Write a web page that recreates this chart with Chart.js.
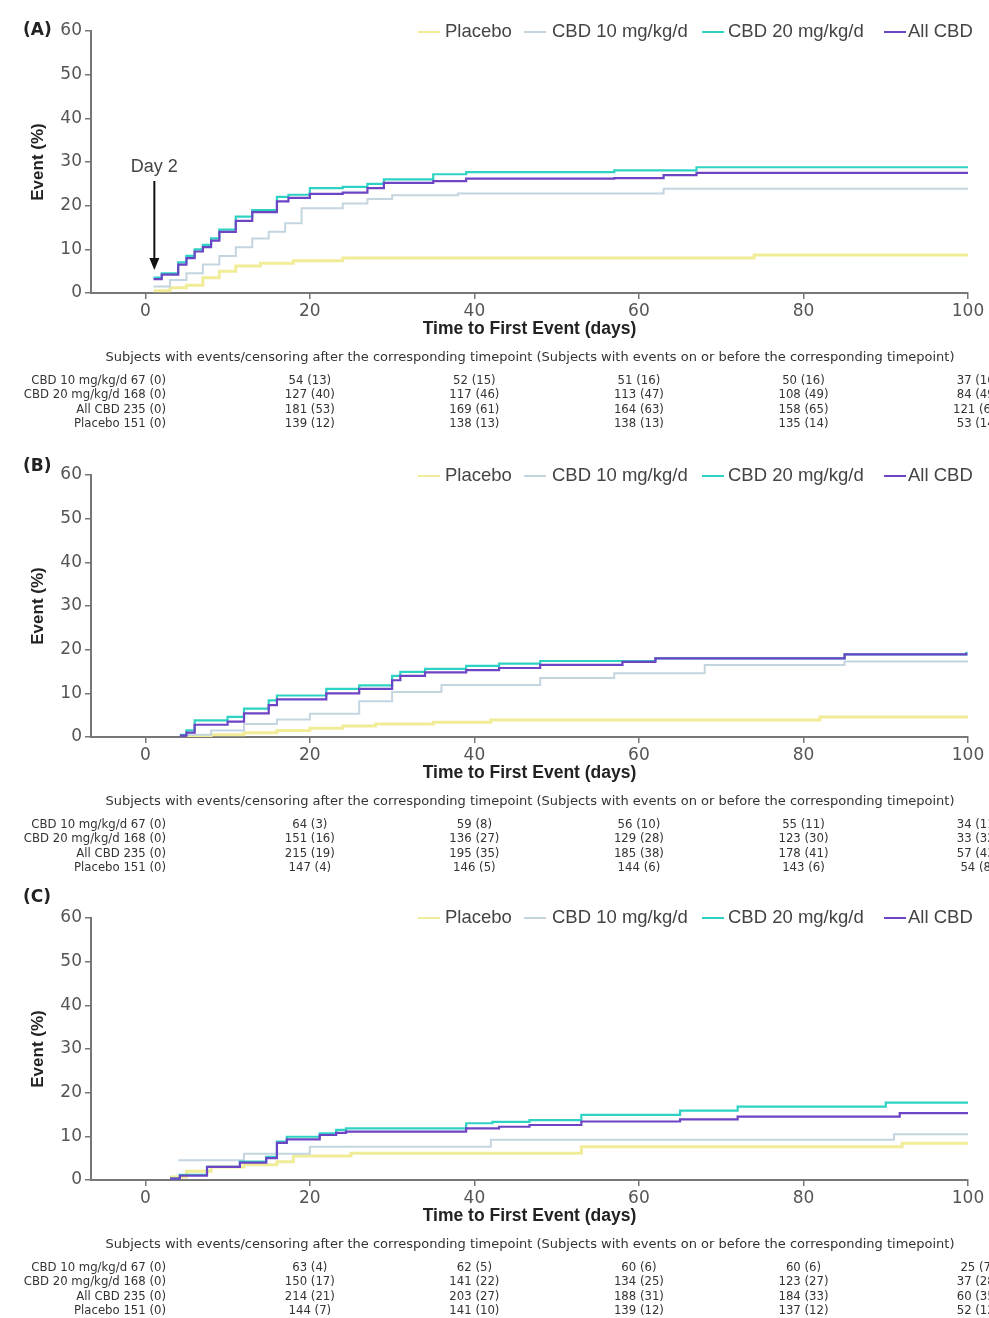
<!DOCTYPE html>
<html><head><meta charset="utf-8">
<script src="https://cdn.jsdelivr.net/npm/chart.js@4"></script>
<style>
html,body{margin:0;padding:0;background:#fff}
body{width:989px;height:1318px;overflow:hidden;position:relative}
canvas{position:absolute;left:0}
</style></head><body>
<canvas id="cA" width="989" height="444" style="top:0px"></canvas>
<canvas id="cB" width="989" height="444" style="top:444px"></canvas>
<canvas id="cC" width="989" height="431" style="top:887px"></canvas>
<script>
// ---------- data ----------
const seriesNames = ['Placebo', 'CBD 10 mg/kg/d', 'CBD 20 mg/kg/d', 'All CBD'];
const xTickValues = [0, 20, 40, 60, 80, 100];
const tableDays = [20, 40, 60, 80, 100];
const tableHeader = 'Subjects with events/censoring after the corresponding timepoint (Subjects with events on or before the corresponding timepoint)';
const tableRowLabels = ['CBD 10 mg/kg/d 67 (0)', 'CBD 20 mg/kg/d 168 (0)', 'All CBD 235 (0)', 'Placebo 151 (0)'];

// Panel A
const A_placebo_t = [1, 3, 5, 7, 9, 11, 14, 18, 24, 74, 100];
const A_placebo_v = [0.5, 1.2, 1.8, 3.5, 5, 6.2, 6.8, 7.4, 8.0, 8.7, 8.7];
const A_cbd10_t = [1, 3, 5, 7, 9, 11, 13, 15, 17, 19, 24, 27, 30, 38, 63, 100];
const A_cbd10_v = [1.5, 3, 4.5, 6.5, 8.5, 10.5, 12.5, 14, 16, 19.4, 20.5, 21.5, 22.4, 22.8, 23.9, 23.9];
const A_cbd20_t = [1, 2, 4, 5, 6, 7, 8, 9, 11, 13, 16, 17.4, 20, 24, 27, 29, 35, 39, 57, 67, 100];
const A_cbd20_v = [3.5, 4.5, 7, 8.5, 10, 11, 12.5, 14.5, 17.5, 19, 22, 22.5, 24, 24.3, 25, 26, 27.2, 27.7, 28.1, 28.8, 28.8];
const A_all_t = [1, 2, 4, 5, 6, 7, 8, 9, 11, 13, 16, 17.4, 20, 24, 27, 29, 35, 39, 57, 63, 67, 100];
const A_all_v = [3.2, 4.2, 6.5, 8, 9.5, 10.5, 12, 14, 16.5, 18.5, 21, 21.8, 22.7, 23, 24, 25.2, 25.6, 26.2, 26.3, 27, 27.5, 27.5];
const A_tab_cbd10 = ['54 (13)', '52 (15)', '51 (16)', '50 (16)', '37 (16)'];
const A_tab_cbd20 = ['127 (40)', '117 (46)', '113 (47)', '108 (49)', '84 (49)'];
const A_tab_all = ['181 (53)', '169 (61)', '164 (63)', '158 (65)', '121 (65)'];
const A_tab_placebo = ['139 (12)', '138 (13)', '138 (13)', '135 (14)', '53 (14)'];

// Panel B
const B_placebo_t = [5, 8, 12, 16, 20, 24, 28, 35, 42, 82, 100];
const B_placebo_v = [0.2, 0.5, 1, 1.5, 2, 2.5, 3, 3.4, 3.9, 4.6, 4.8];
const B_cbd10_t = [5, 8, 12, 16, 20, 26, 30, 36, 48, 57, 68, 85, 100];
const B_cbd10_v = [0.5, 1.5, 3, 4, 5.3, 8.2, 10.3, 11.9, 13.5, 14.6, 16.5, 17.3, 17.3];
const B_cbd20_t = [4.2, 5, 6, 10, 12, 15, 16, 22, 26, 30, 31, 34, 39, 43, 48, 62, 85, 99.8];
const B_cbd20_v = [0.5, 1.5, 3.8, 4.6, 6.5, 8.4, 9.5, 11, 11.8, 14, 14.9, 15.6, 16.3, 16.8, 17.4, 18, 18.9, 19.5];
const B_all_t = [4.2, 5, 6, 10, 12, 15, 16, 22, 26, 30, 31, 34, 39, 43, 48, 58, 62, 85, 99.8];
const B_all_v = [0.3, 1, 2.8, 3.5, 5.4, 7.3, 8.6, 10, 11, 13, 14, 14.8, 15.3, 15.8, 16.5, 17.2, 18, 18.9, 19.3];
const B_tab_cbd10 = ['64 (3)', '59 (8)', '56 (10)', '55 (11)', '34 (11)'];
const B_tab_cbd20 = ['151 (16)', '136 (27)', '129 (28)', '123 (30)', '33 (32)'];
const B_tab_all = ['215 (19)', '195 (35)', '185 (38)', '178 (41)', '57 (43)'];
const B_tab_placebo = ['147 (4)', '146 (5)', '144 (6)', '143 (6)', '54 (8)'];

// Panel C
const C_placebo_t = [3, 5, 8, 12, 16, 18, 25, 53, 92, 100];
const C_placebo_v = [0.7, 2, 3, 3.5, 4.2, 5.5, 6.1, 7.6, 8.4, 8.4];
const C_cbd10_t = [4, 12, 20, 42, 91, 100];
const C_cbd10_v = [4.5, 6, 7.6, 9.2, 10.5, 10.5];
const C_cbd20_t = [3, 4.2, 7.5, 11.5, 14.7, 16, 17.2, 21.2, 23.2, 24.4, 39, 42.2, 46.7, 53, 65, 72, 90, 100];
const C_cbd20_v = [0.3, 1.2, 3.0, 4.2, 5.3, 8.8, 9.9, 10.7, 11.5, 11.8, 13.0, 13.3, 13.7, 14.9, 15.9, 16.8, 17.7, 17.7];
const C_all_t = [3, 4.2, 7.5, 11.5, 14.7, 16, 17.2, 21.2, 23.2, 24.4, 39, 43, 46.7, 53, 65, 72, 91.7, 100];
const C_all_v = [0.3, 1.0, 3.0, 4.0, 5.0, 8.5, 9.3, 10.3, 10.8, 11.1, 11.8, 12.2, 12.6, 13.4, 13.9, 14.5, 15.3, 15.3];
const C_tab_cbd10 = ['63 (4)', '62 (5)', '60 (6)', '60 (6)', '25 (7)'];
const C_tab_cbd20 = ['150 (17)', '141 (22)', '134 (25)', '123 (27)', '37 (28)'];
const C_tab_all = ['214 (21)', '203 (27)', '188 (31)', '184 (33)', '60 (35)'];
const C_tab_placebo = ['144 (7)', '141 (10)', '139 (12)', '137 (12)', '52 (12)'];

// ---------- style ----------
const seriesColors = ['#f1ec98', '#c4d5e0', '#2ed2c2', '#6c44c4'];
const seriesWidths = [3, 2, 2.2, 2.2];
const legendLineX = [418, 524, 702, 884];
const legendTextX = [445, 552, 728, 908];

function pts(t, v) { return t.map((x, i) => ({x: x, y: v[i]})); }

const deco = {
  id: 'panelDeco',
  afterDraw(chart, args, o) {
    const ctx = chart.ctx, xs = chart.scales.x;
    ctx.save();
    ctx.textBaseline = 'middle';
    // panel label
    ctx.fillStyle = '#222';
    ctx.font = 'bold 17px "DejaVu Sans"';
    ctx.textAlign = 'left';
    ctx.fillText(o.label, 23, o.labelY);
    // legend
    ctx.font = '18.5px "Liberation Sans"';
    ctx.fillStyle = '#444';
    seriesNames.forEach((n, i) => {
      ctx.strokeStyle = seriesColors[i];
      ctx.lineWidth = 2;
      ctx.beginPath();
      ctx.moveTo(legendLineX[i], o.legendY);
      ctx.lineTo(legendLineX[i] + 22, o.legendY);
      ctx.stroke();
      ctx.fillText(n, legendTextX[i], o.legendY);
    });
    // risk table
    ctx.fillStyle = '#333';
    ctx.font = '13px "DejaVu Sans"';
    ctx.textAlign = 'center';
    ctx.fillText(tableHeader, 530, 358, 874);
    ctx.font = '13px "DejaVu Sans Condensed", "DejaVu Sans"';
    const rowY = [381, 395, 410, 424];
    o.table.forEach((row, r) => {
      ctx.textAlign = 'right';
      ctx.fillText(tableRowLabels[r], 166, rowY[r]);
      ctx.textAlign = 'center';
      row.forEach((s, c) => {
        let x = xs.getPixelForValue(tableDays[c]);
        if (c === tableDays.length - 1) x += 10;
        ctx.fillText(s, x, rowY[r]);
      });
    });
    // annotation
    if (o.annot) {
      const ax = xs.getPixelForValue(o.annot.day);
      ctx.fillStyle = '#444';
      ctx.font = '18px "Liberation Sans"';
      ctx.textAlign = 'center';
      ctx.fillText(o.annot.text, ax, 167);
      ctx.strokeStyle = '#111';
      ctx.lineWidth = 2;
      ctx.beginPath();
      ctx.moveTo(ax, 181);
      ctx.lineTo(ax, 260);
      ctx.stroke();
      ctx.fillStyle = '#111';
      ctx.beginPath();
      ctx.moveTo(ax - 5, 258);
      ctx.lineTo(ax + 5, 258);
      ctx.lineTo(ax, 270);
      ctx.closePath();
      ctx.fill();
    }
    ctx.restore();
  }
};

function makePanel(id, H, label, labelY, legendY, data, table, annot) {
  const ds = data.map((d, i) => ({
    label: seriesNames[i],
    data: pts(d[0], d[1]),
    borderColor: seriesColors[i],
    backgroundColor: seriesColors[i],
    borderWidth: seriesWidths[i],
    stepped: 'before',
    pointRadius: 0,
    fill: false,
    order: 3 - i
  }));
  new Chart(document.getElementById(id), {
    type: 'line',
    data: {datasets: ds},
    options: {
      responsive: false,
      animation: false,
      devicePixelRatio: 1,
      layout: {padding: {left: 0, top: 31, right: 21, bottom: 0}},
      plugins: {
        legend: {display: false},
        tooltip: {enabled: false},
        panelDeco: {label: label, labelY: labelY, legendY: legendY, table: table, annot: annot}
      },
      scales: {
        x: {
          type: 'linear', min: -6.6, max: 100,
          afterBuildTicks: s => { s.ticks = xTickValues.map(v => ({value: v})); },
          afterFit: s => { s.height = H - 293; },
          grid: {drawOnChartArea: false, drawTicks: true, tickLength: 6, color: '#777', lineWidth: 1.5},
          border: {color: '#777', width: 2},
          ticks: {color: '#555', font: {family: 'DejaVu Sans', size: 17}, padding: 2, maxRotation: 0},
          title: {display: true, text: 'Time to First Event (days)', color: '#222',
                  font: {family: 'Liberation Sans', size: 17.5, weight: 'bold'},
                  padding: {top: 0, bottom: H - 329 - 10.5}}
        },
        y: {
          min: 0, max: 60,
          ticks: {stepSize: 10, color: '#555', font: {family: 'DejaVu Sans', size: 17}, padding: 3},
          afterFit: s => { s.width = 91; },
          grid: {drawOnChartArea: false, drawTicks: true, tickLength: 6, color: '#777', lineWidth: 1.5},
          border: {color: '#777', width: 2},
          title: {display: true, text: 'Event (%)', color: '#222',
                  font: {family: 'Liberation Sans', size: 17, weight: 'bold'},
                  padding: {top: 28, bottom: 0}}
        }
      }
    },
    plugins: [deco]
  });
}

makePanel('cA', 444, '(A)', 31, 32,
  [[A_placebo_t, A_placebo_v], [A_cbd10_t, A_cbd10_v], [A_cbd20_t, A_cbd20_v], [A_all_t, A_all_v]],
  [A_tab_cbd10, A_tab_cbd20, A_tab_all, A_tab_placebo],
  {day: 1.1, text: 'Day 2'});
makePanel('cB', 444, '(B)', 23, 32,
  [[B_placebo_t, B_placebo_v], [B_cbd10_t, B_cbd10_v], [B_cbd20_t, B_cbd20_v], [B_all_t, B_all_v]],
  [B_tab_cbd10, B_tab_cbd20, B_tab_all, B_tab_placebo], null);
makePanel('cC', 431, '(C)', 11, 31,
  [[C_placebo_t, C_placebo_v], [C_cbd10_t, C_cbd10_v], [C_cbd20_t, C_cbd20_v], [C_all_t, C_all_v]],
  [C_tab_cbd10, C_tab_cbd20, C_tab_all, C_tab_placebo], null);
</script>
</body></html>
